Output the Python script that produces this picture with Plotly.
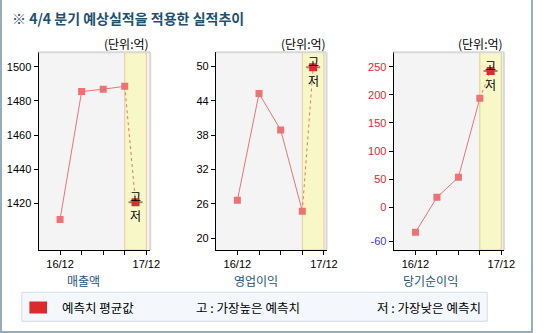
import plotly.graph_objects as go

# Quarter labels along each x axis (only first and last are printed)
quarters = ["16/12", "17/03", "17/06", "17/09", "17/12"]
shown_quarters = ["16/12", "", "", "", "17/12"]

# Reported results for four quarters, plus the 4/4 forecast average
sales = [1410.6, 1485.4, 1486.8, 1488.5]
sales_forecast = 1420.6
op_income = [26.6, 45.3, 38.9, 24.7]
op_income_forecast = 49.9
net_income = [-44.5, 17.8, 53.3, 193.8]
net_income_forecast = 242.4

panel_titles = ["매출액", "영업이익", "당기순이익"]
sales_ticks = [1420, 1440, 1460, 1480, 1500]
op_ticks = [20, 26, 32, 38, 44, 50]
net_ticks = [-60, 0, 50, 100, 150, 200, 250]

W, H = 544, 333
LINE_C = "#ee7272"
FC_C = "#dc2b2b"
TITLE_C = "#24557a"
FONT = "Liberation Sans, Noto Sans CJK KR, sans-serif"
KFONT = "Noto Sans CJK KR, sans-serif"


def px_x(v):
    return v / W


def px_y(v):
    return 1 - v / H


panels = [
    dict(vals=sales, fc=sales_forecast, ticks=sales_ticks, yr=[1392.7, 1508.4],
         x0=39.3, x1=153.3, xr=[-1.0, 4.18], title_x=85.7),
    dict(vals=op_income, fc=op_income_forecast, ticks=op_ticks, yr=[17.9, 52.5],
         x0=220.3, x1=333.3, xr=[-0.995, 4.12], title_x=261.3),
    dict(vals=net_income, fc=net_income_forecast, ticks=net_ticks, yr=[-75.9, 275.6],
         x0=401.7, x1=514.3, xr=[-1.02, 4.12], title_x=439.7),
]
PLOT_TOP, PLOT_BOTTOM = 52.3, 250.0

fig = go.Figure()
shapes = []
annotations = []
layout_axes = {}

for i, p in enumerate(panels):
    n = i + 1
    xa = "x" if n == 1 else f"x{n}"
    ya = "y" if n == 1 else f"y{n}"
    xkey = "xaxis" if n == 1 else f"xaxis{n}"
    ykey = "yaxis" if n == 1 else f"yaxis{n}"
    xs = list(range(len(p["vals"])))
    fc_x = len(p["vals"]) - 0.5

    # actual results
    fig.add_trace(go.Scatter(
        x=xs, y=p["vals"], mode="lines+markers", xaxis=xa, yaxis=ya,
        line=dict(color=LINE_C, width=1),
        marker=dict(symbol="square", size=7, color=LINE_C),
        showlegend=False, hoverinfo="skip"))
    # dashed link to forecast
    fig.add_trace(go.Scatter(
        x=[xs[-1], fc_x], y=[p["vals"][-1], p["fc"]], mode="lines",
        xaxis=xa, yaxis=ya, line=dict(color=LINE_C, width=1, dash="3px,3px"),
        showlegend=False, hoverinfo="skip"))
    # high/low range tick
    fig.add_trace(go.Scatter(
        x=[fc_x], y=[p["fc"]], mode="markers", xaxis=xa, yaxis=ya,
        marker=dict(symbol="line-ew", size=10, line=dict(color="#8c8c6c", width=2)),
        showlegend=False, hoverinfo="skip"))
    # forecast average
    fig.add_trace(go.Scatter(
        x=[fc_x], y=[p["fc"]], mode="markers", xaxis=xa, yaxis=ya,
        marker=dict(symbol="square", size=8, color=FC_C),
        showlegend=False, hoverinfo="skip"))

    if i == 2:
        ticktext = [
            f'<span style="color:{"#3c3cdc" if t < 0 else "#dc2b2b"}">{t}</span>'
            for t in p["ticks"]]
    else:
        ticktext = [str(t) for t in p["ticks"]]

    layout_axes[xkey] = dict(
        domain=[px_x(p["x0"]), px_x(p["x1"])], range=p["xr"], anchor=ya,
        tickvals=list(range(len(quarters))), ticktext=shown_quarters,
        showline=True, linecolor="black", linewidth=1, ticks="outside",
        ticklen=4, tickcolor="black", showgrid=False, zeroline=False,
        tickfont=dict(family=FONT, size=11, color="black"), fixedrange=True)
    layout_axes[ykey] = dict(
        domain=[px_y(PLOT_BOTTOM), px_y(PLOT_TOP)], range=p["yr"], anchor=xa,
        tickvals=p["ticks"], ticktext=ticktext,
        showline=True, linecolor="black", linewidth=1, ticks="outside",
        ticklen=4, tickcolor="black", showgrid=False, zeroline=False,
        tickfont=dict(family=FONT, size=11, color="black"), fixedrange=True)

    # forecast quarter band
    shapes.append(dict(type="rect", xref=xa, yref=f"{ya} domain",
                       x0=len(p["vals"]) - 1, x1=len(p["vals"]), y0=0, y1=1,
                       fillcolor="#f7f7c8", line=dict(color="#e4cc92", width=1),
                       layer="below"))
    # light top/right frame
    shapes.append(dict(type="line", xref=f"{xa} domain", yref=f"{ya} domain",
                       x0=0, x1=1, y0=1, y1=1, line=dict(color="#d8d8d8", width=2)))
    shapes.append(dict(type="line", xref=f"{xa} domain", yref=f"{ya} domain",
                       x0=1, x1=1, y0=0, y1=1, line=dict(color="#d8d8d8", width=2)))

    # high / low labels
    annotations.append(dict(x=fc_x, y=p["fc"], xref=xa, yref=ya, text="고",
                            showarrow=False, yanchor="bottom", yshift=-5,
                            font=dict(family=KFONT, size=12, color="black")))
    annotations.append(dict(x=fc_x, y=p["fc"], xref=xa, yref=ya, text="저",
                            showarrow=False, yanchor="top", yshift=-3,
                            font=dict(family=KFONT, size=12, color="black")))
    # unit label
    annotations.append(dict(x=px_x(p["x1"] + 1), y=px_y(43.5), xref="paper", yref="paper",
                            text="(단위:억)", showarrow=False, xanchor="right",
                            yanchor="middle",
                            font=dict(family=KFONT, size=12, color="black")))
    # panel title
    annotations.append(dict(x=px_x(p["title_x"]), y=px_y(280), xref="paper", yref="paper",
                            text=panel_titles[i], showarrow=False, xanchor="center",
                            yanchor="middle",
                            font=dict(family=KFONT, size=12, color=TITLE_C)))

# chart heading
annotations.append(dict(x=px_x(10), y=px_y(18), xref="paper", yref="paper",
                        text="<b>※ 4/4 분기 예상실적을 적용한 실적추이</b>",
                        showarrow=False, xanchor="left", yanchor="middle",
                        font=dict(family=KFONT, size=14, color="#1f4f72")))

# legend box
shapes.append(dict(type="rect", xref="paper", yref="paper",
                   x0=px_x(22.3), x1=px_x(497.3), y0=px_y(321.3), y1=px_y(292.3),
                   fillcolor="#f4f8fd", line=dict(color="#d3dde8", width=1)))
shapes.append(dict(type="rect", xref="paper", yref="paper",
                   x0=px_x(30), x1=px_x(48), y0=px_y(313.5), y1=px_y(301.5),
                   fillcolor=FC_C, line=dict(width=0)))
for txt, x in [("예측치 평균값", 61), ("고 : 가장높은 예측치", 198.5), ("저 : 가장낮은 예측치", 382.5)]:
    annotations.append(dict(x=px_x(x), y=px_y(307), xref="paper", yref="paper",
                            text=txt, showarrow=False, xanchor="left", yanchor="middle",
                            font=dict(family=KFONT, size=12.5, color="black")))

# outer frame (left, right, bottom)
frame_c = "#96adbb"
shapes.append(dict(type="line", xref="paper", yref="paper", x0=px_x(1), x1=px_x(1),
                   y0=0, y1=1, line=dict(color=frame_c, width=2)))
shapes.append(dict(type="line", xref="paper", yref="paper", x0=px_x(543), x1=px_x(543),
                   y0=0, y1=1, line=dict(color=frame_c, width=2)))
shapes.append(dict(type="line", xref="paper", yref="paper", x0=0, x1=1,
                   y0=px_y(332), y1=px_y(332), line=dict(color=frame_c, width=2)))

fig.update_layout(
    width=W, height=H, margin=dict(l=0, r=0, t=0, b=0),
    paper_bgcolor="white", plot_bgcolor="#f4f4f4",
    shapes=shapes, annotations=annotations, showlegend=False,
    **layout_axes)

fig.write_html("out.html", config={"displayModeBar": False})
